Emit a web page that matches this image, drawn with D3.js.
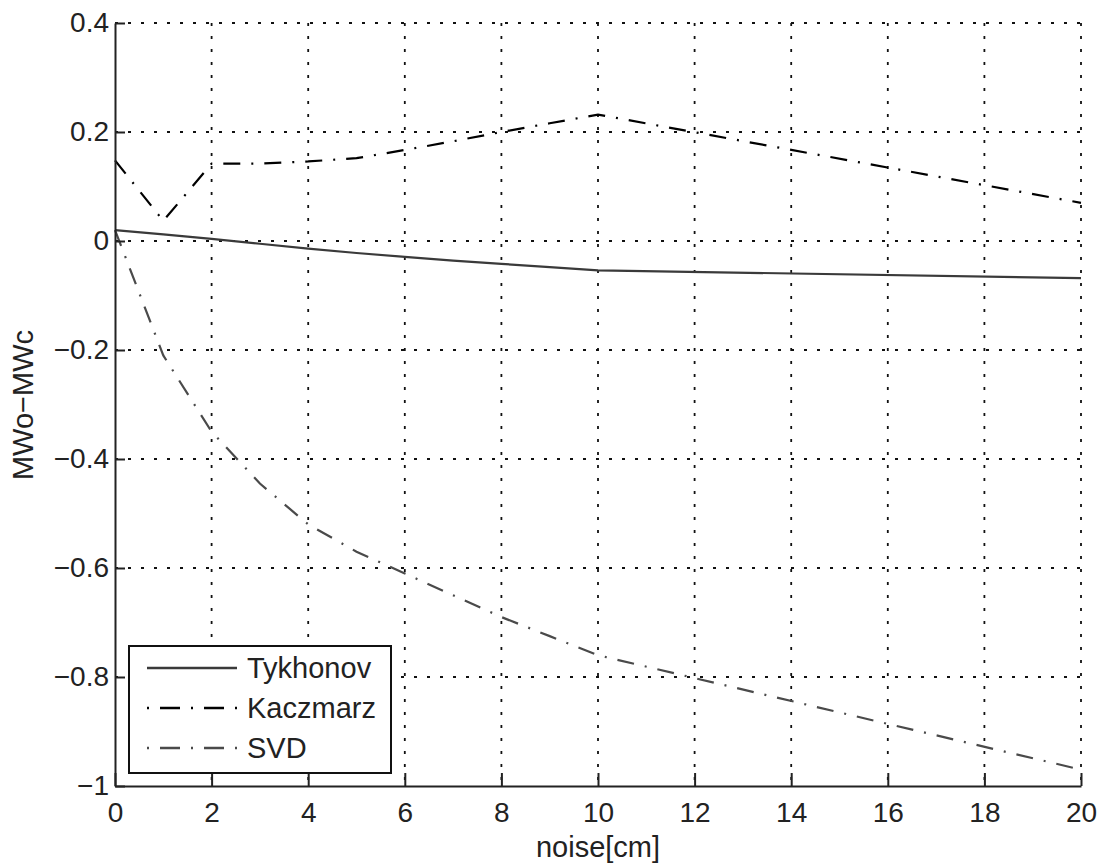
<!DOCTYPE html>
<html>
<head>
<meta charset="utf-8">
<script src="https://cdn.jsdelivr.net/npm/d3@7"></script>
<style>
  body { margin: 0; background: #fff; }
  text { font-family: "Liberation Sans", Arial, sans-serif; fill: #222; }
</style>
</head>
<body>
<svg id="mainsvg" width="1103" height="863"></svg>
<script>
// noise levels [cm]
const noise = [0, 1, 2, 3, 4, 5, 6, 7, 8, 9, 10, 20]
const tykhonov = [0.02, 0.012, 0.004, -0.005, -0.014, -0.022, -0.029, -0.036, -0.042, -0.048, -0.054, -0.068]
const kaczmarz = [0.148, 0.037, 0.142, 0.142, 0.146, 0.152, 0.167, 0.183, 0.2, 0.216, 0.232, 0.07]
const svd = [0.02, -0.21, -0.35, -0.445, -0.52, -0.57, -0.61, -0.65, -0.69, -0.725, -0.76, -0.97]
const seriesNames = ['Tykhonov', 'Kaczmarz', 'SVD']
const xTicks = [0, 2, 4, 6, 8, 10, 12, 14, 16, 18, 20]
const yTicks = [-1, -0.8, -0.6, -0.4, -0.2, 0, 0.2, 0.4]

const svg = d3.select('#mainsvg')
const x = d3.scaleLinear().domain([0, 20]).range([115, 1081])
const y = d3.scaleLinear().domain([-1, 0.4]).range([786, 23])

// dotted grid
const grid = svg.append('g')
grid.selectAll('line.v').data(xTicks.filter(d => d > 0)).join('line')
    .attr('x1', d => x(d)).attr('x2', d => x(d))
    .attr('y1', y(0.4)).attr('y2', y(-1))
    .attr('stroke', '#111').attr('stroke-width', 1.8)
    .attr('stroke-dasharray', '3,10')
grid.selectAll('line.h').data(yTicks.filter(d => d > -1)).join('line')
    .attr('x1', x(0)).attr('x2', x(20))
    .attr('y1', d => y(d)).attr('y2', d => y(d))
    .attr('stroke', '#111').attr('stroke-width', 1.8)
    .attr('stroke-dasharray', '3,10')

// lines
const styles = [
    { data: tykhonov, color: '#3a3a3a', dash: null },
    { data: kaczmarz, color: '#000', dash: '17,11,2,11' },
    { data: svd, color: '#4a4a4a', dash: '17,11,2,11' }
]
const line = d3.line().x((d, i) => x(noise[i])).y(d => y(d))
svg.append('g').selectAll('path').data(styles).join('path')
    .attr('d', s => line(s.data))
    .attr('fill', 'none')
    .attr('stroke', s => s.color)
    .attr('stroke-width', 2.2)
    .attr('stroke-dasharray', s => s.dash)

// axes, ticks pointing inward
const xAxis = svg.append('g').attr('transform', `translate(0, ${y(-1)})`)
    .call(d3.axisBottom(x).tickValues(xTicks).tickFormat(d3.format('d'))
        .tickSizeInner(-13).tickSizeOuter(0).tickPadding(16))
const yAxis = svg.append('g').attr('transform', `translate(${x(0)}, 0)`)
    .call(d3.axisLeft(y).tickValues(yTicks).tickFormat(d3.format(''))
        .tickSizeInner(-10).tickSizeOuter(0).tickPadding(6))
svg.selectAll('.domain, .tick line').attr('stroke', '#222').attr('stroke-width', 2)
svg.selectAll('.tick text').attr('font-size', 28).style('fill', '#222')
    .attr('font-family', '"Liberation Sans", Arial, sans-serif')

// axis labels
svg.append('text').attr('x', 598).attr('y', 857)
    .attr('text-anchor', 'middle').attr('font-size', 29).text('noise[cm]')
svg.append('text').attr('transform', 'translate(33, 405) rotate(-90)')
    .attr('text-anchor', 'middle').attr('font-size', 29).text('MWo\u2212MWc')

// legend
const legend = svg.append('g')
legend.append('rect').attr('x', 129).attr('y', 646).attr('width', 262).attr('height', 127)
    .attr('fill', '#fff').attr('stroke', '#111').attr('stroke-width', 2)
const rows = legend.selectAll('g.row').data(styles).join('g')
    .attr('transform', (d, i) => `translate(0, ${668 + i * 40})`)
rows.append('line').attr('x1', 147).attr('x2', 237).attr('y1', 0).attr('y2', 0)
    .attr('stroke', s => s.color).attr('stroke-width', 2.6)
    .attr('stroke-dasharray', s => s.dash ? '2,11,20,11' : null)
rows.append('text').attr('x', 247).attr('y', 10).attr('font-size', 29)
    .text((d, i) => seriesNames[i])
</script>
</body>
</html>
